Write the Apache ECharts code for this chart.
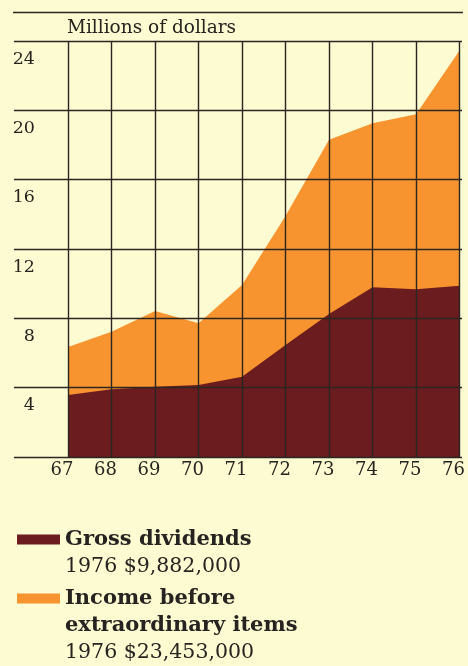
<!DOCTYPE html>
<html>
<head>
<meta charset="utf-8">
<script src="https://cdn.jsdelivr.net/npm/echarts@6/dist/echarts.min.js"></script>
<style>
html,body{margin:0;padding:0;background:#FDFBD2;}
#chart{width:468px;height:666px;}
</style>
</head>
<body>
<div id="chart"></div>
<script>
var years = ['67','68','69','70','71','72','73','74','75','76'];
var incomeValues = [6.35, 7.23, 8.42, 7.71, 9.92, 13.9, 18.3, 19.25, 19.77, 23.45];
var dividendValues = [3.58, 3.91, 4.06, 4.15, 4.63, 6.46, 8.25, 9.79, 9.68, 9.88];
var yTicks = [0, 4, 8, 12, 16, 20, 24];
var seriesNames = ['Income before extraordinary items', 'Gross dividends'];
var legendLines = {
  'Gross dividends': ['Gross dividends'],
  'Income before extraordinary items': ['Income before', 'extraordinary items']
};
var legendNotes = {
  'Gross dividends': '1976 $9,882,000',
  'Income before extraordinary items': '1976 $23,453,000'
};
var titleText = 'Millions of dollars';

var BG = '#FDFBD2', DARK = '#6B1C1E', ORANGE = '#F8942F', INK = '#262320';
var SERIF = '"DejaVu Serif", "Liberation Serif", serif';
var LH = 27;

function legendFor(name, top) {
  var lines = legendLines[name];
  var n = lines.length + 1;
  var color = name === 'Gross dividends' ? DARK : ORANGE;
  return {
    left: 17, top: top, orient: 'vertical', padding: 0,
    icon: 'rect', itemWidth: 43, itemHeight: 10, itemGap: 0,
    selectedMode: false,
    data: [{ name: name, itemStyle: { color: color, borderWidth: 0 } }],
    formatter: function (nm) {
      return lines.map(function (l) { return '{b|' + l + '}'; }).join('\n') + '\n{r|' + legendNotes[nm] + '}';
    },
    textStyle: {
      padding: [LH * (n - 1), 0, 0, 0],
      rich: {
        b: { fontFamily: SERIF, fontWeight: 'bold', fontSize: 21, lineHeight: LH, color: INK },
        r: { fontFamily: SERIF, fontWeight: 'normal', fontSize: 20.5, lineHeight: LH, color: INK }
      }
    }
  };
}

var chart = echarts.init(document.getElementById('chart'), null, { renderer: 'canvas' });
var gridLine = { color: '#2a2622', width: 1.4 };
chart.setOption({
  backgroundColor: BG,
  animation: false,
  title: {
    text: titleText, left: 67, top: 19, padding: 0,
    textStyle: { fontFamily: SERIF, fontWeight: 'normal', fontSize: 18.5, color: INK }
  },
  graphic: [{
    type: 'line', shape: { x1: 13, y1: 12.5, x2: 463, y2: 12.5 },
    style: { stroke: '#2a2622', lineWidth: 1.5 }, silent: true
  }],
  legend: [
    legendFor('Gross dividends', 529),
    legendFor('Income before extraordinary items', 588)
  ],
  grid: [
    { left: 14, right: 6, top: 41, bottom: 209 },
    { left: 68, right: 6, top: 41, bottom: 209 }
  ],
  xAxis: [
    { gridIndex: 0, type: 'value', show: false, min: 0, max: 1 },
    {
      gridIndex: 1, type: 'category', data: years, boundaryGap: false, z: 10,
      axisLine: { show: false }, axisTick: { show: false },
      splitLine: { show: true, lineStyle: gridLine },
      axisLabel: { fontFamily: SERIF, fontSize: 18, color: INK, margin: 4, padding: [0, 12, 0, 0] }
    }
  ],
  yAxis: [
    {
      gridIndex: 0, type: 'value', min: yTicks[0], max: yTicks[yTicks.length - 1], interval: yTicks[1] - yTicks[0], z: 10,
      axisLine: { show: false }, axisTick: { show: false },
      splitLine: { show: true, lineStyle: gridLine },
      axisLabel: {
        inside: true, align: 'right', verticalAlign: 'top', lineHeight: 36, margin: 21,
        fontFamily: SERIF, fontSize: 17.5, color: INK,
        formatter: function (v) { return v === yTicks[0] ? '' : String(v); }
      }
    },
    { gridIndex: 1, type: 'value', min: yTicks[0], max: yTicks[yTicks.length - 1], show: false, splitLine: { show: false } }
  ],
  series: [
    {
      name: seriesNames[0], type: 'line', xAxisIndex: 1, yAxisIndex: 1, data: incomeValues,
      symbol: 'none', color: ORANGE, lineStyle: { width: 0, color: ORANGE },
      areaStyle: { color: ORANGE, opacity: 1 }, z: 2
    },
    {
      name: seriesNames[1], type: 'line', xAxisIndex: 1, yAxisIndex: 1, data: dividendValues,
      symbol: 'none', color: DARK, lineStyle: { width: 0, color: DARK },
      areaStyle: { color: DARK, opacity: 1 }, z: 3
    }
  ]
});
</script>
</body>
</html>
